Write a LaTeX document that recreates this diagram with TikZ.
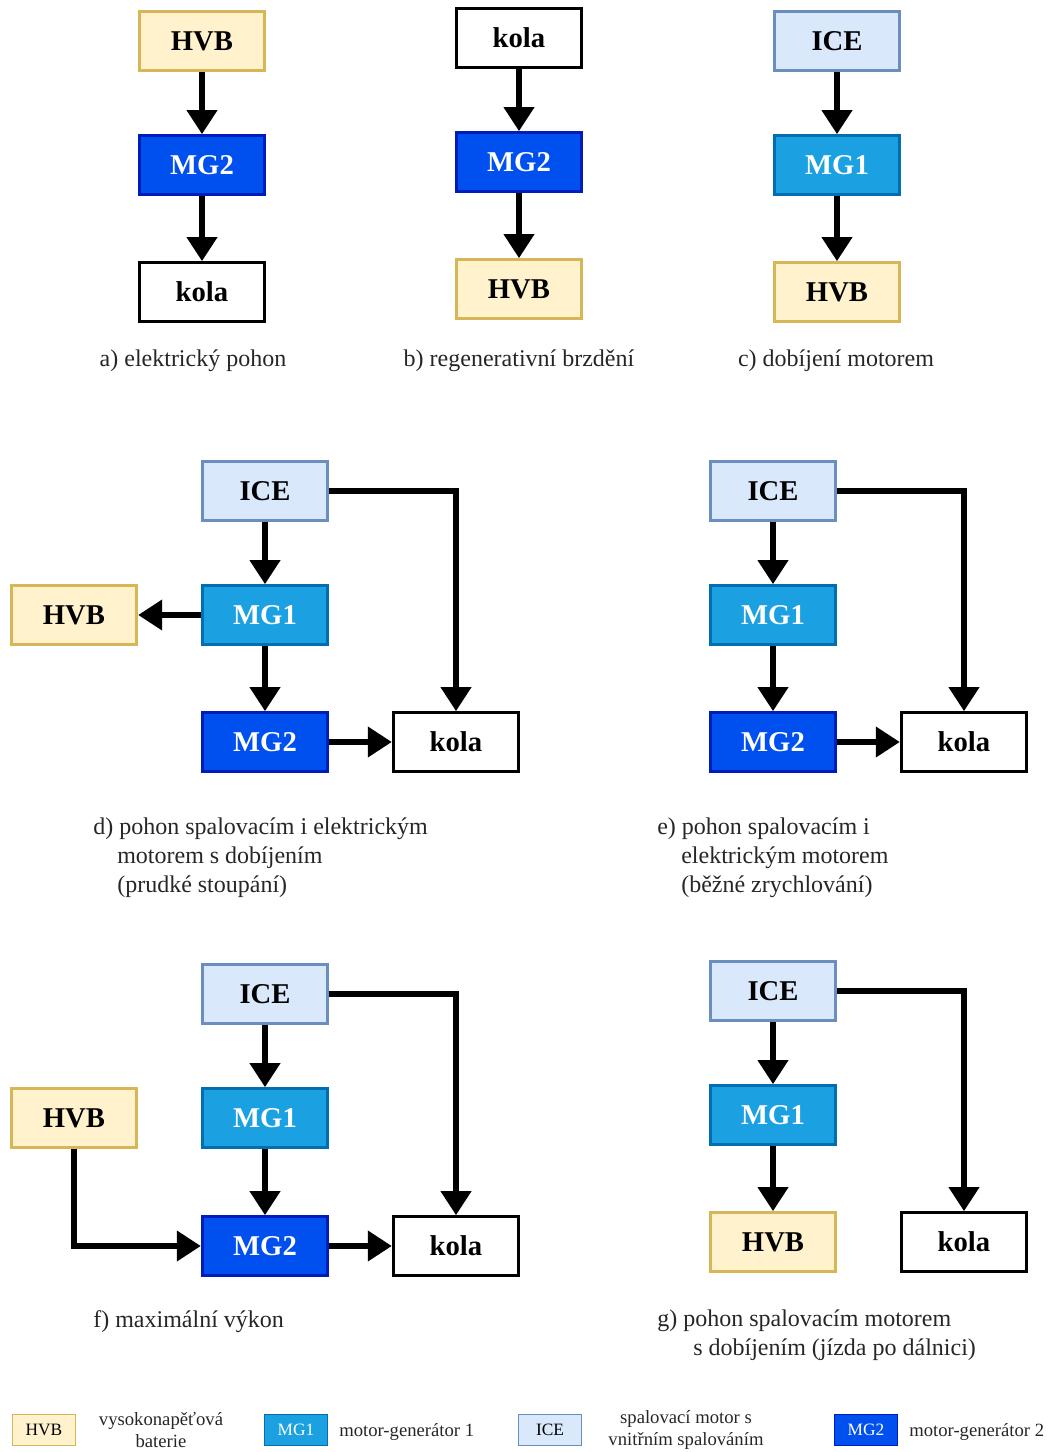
\documentclass[tikz,border=0pt]{standalone}
\usepackage{fontspec}
\setmainfont{Liberation Serif}
\usetikzlibrary{arrows.meta,positioning}
\definecolor{hvbfill}{HTML}{FFF2CC}
\definecolor{hvbdraw}{HTML}{D6B656}
\definecolor{icefill}{HTML}{DAE8FC}
\definecolor{icedraw}{HTML}{6C8EBF}
\definecolor{mgafill}{HTML}{1BA1E2}
\definecolor{mgadraw}{HTML}{006EAF}
\definecolor{mgbfill}{HTML}{0050EF}
\definecolor{mgbdraw}{HTML}{001DBC}
\tikzset{
  box/.style={rectangle, line width=2.2pt, minimum width=94pt, minimum height=44pt, inner sep=0pt, font=\fontsize{21.5}{24}\selectfont\bfseries},
  hvb/.style={box, fill=hvbfill, draw=hvbdraw, text=black},
  ice/.style={box, fill=icefill, draw=icedraw, text=black},
  mga/.style={box, fill=mgafill, draw=mgadraw, text=white},
  mgb/.style={box, fill=mgbfill, draw=mgbdraw, text=white},
  kola/.style={box, fill=white, draw=black, text=black},
  arr/.style={line width=4.4pt, -{Triangle[length=18pt,width=22pt]}},
  capt/.style={font=\fontsize{18}{21.4}\selectfont, text=black!85, inner sep=0pt},
  lbox/.style={rectangle, line width=1.1pt, minimum width=47pt, minimum height=23pt, inner sep=0pt, font=\fontsize{13}{15}\selectfont},
  ltext/.style={font=\fontsize{14}{16.5}\selectfont, text=black!85, inner sep=0pt, align=center},
}
\begin{document}
\begin{tikzpicture}[x=0.75pt, y=-0.75pt]
\useasboundingbox (0,0) rectangle (1050,1452);
% a)
\node[hvb] (hvb1) at (202,41) {HVB};
\node[mgb] (mg21) at (202,165) {MG2};
\node[kola] (kola1) at (202,292) {kola};
\draw[arr] (hvb1) -- (mg21);
\draw[arr] (mg21) -- (kola1);
\node[capt] (capa) at (193,361) {a) elektrický pohon};
% b)
\node[kola] (kola2) at (519,38) {kola};
\node[mgb] (mg22) at (519,162) {MG2};
\node[hvb] (hvb2) at (519,289) {HVB};
\draw[arr] (kola2) -- (mg22);
\draw[arr] (mg22) -- (hvb2);
\node[capt] (capb) at (519,361) {b) regenerativní brzdění};
% c)
\node[ice] (ice3) at (837,41) {ICE};
\node[mga] (mg13) at (837,165) {MG1};
\node[hvb] (hvb3) at (837,292) {HVB};
\draw[arr] (ice3) -- (mg13);
\draw[arr] (mg13) -- (hvb3);
\node[capt] (capc) at (836,361) {c) dobíjení motorem};
% d)
\node[ice] (ice4) at (265,491) {ICE};
\node[mga] (mg14) at (265,615) {MG1};
\node[hvb] (hvb4) at (74,615) {HVB};
\node[mgb] (mg24) at (265,742) {MG2};
\node[kola] (kola4) at (456,742) {kola};
\draw[arr] (ice4) -- (mg14);
\draw[arr] (mg14) -- (hvb4);
\draw[arr] (mg14) -- (mg24);
\draw[arr] (mg24) -- (kola4);
\draw[arr] (ice4.east) -| (kola4.north);
\node[capt, anchor=north west, align=left] (capd) at (93,818) {d) pohon spalovacím i elektrickým\\\hspace*{18pt}motorem s dobíjením\\\hspace*{18pt}(prudké stoupání)};
% e)
\node[ice] (ice5) at (773,491) {ICE};
\node[mga] (mg15) at (773,615) {MG1};
\node[mgb] (mg25) at (773,742) {MG2};
\node[kola] (kola5) at (964,742) {kola};
\draw[arr] (ice5) -- (mg15);
\draw[arr] (mg15) -- (mg25);
\draw[arr] (mg25) -- (kola5);
\draw[arr] (ice5.east) -| (kola5.north);
\node[capt, anchor=north west, align=left] (cape) at (657,818) {e) pohon spalovacím i\\\hspace*{18pt}elektrickým motorem\\\hspace*{18pt}(běžné zrychlování)};
% f)
\node[ice] (ice6) at (265,994) {ICE};
\node[mga] (mg16) at (265,1118) {MG1};
\node[hvb] (hvb6) at (74,1118) {HVB};
\node[mgb] (mg26) at (265,1246) {MG2};
\node[kola] (kola6) at (456,1246) {kola};
\draw[arr] (ice6) -- (mg16);
\draw[arr] (mg16) -- (mg26);
\draw[arr] (mg26) -- (kola6);
\draw[arr] (ice6.east) -| (kola6.north);
\draw[arr] (hvb6.south) |- (mg26.west);
\node[capt, anchor=north west, align=left] (capf) at (93,1310) {f) maximální výkon};
% g)
\node[ice] (ice7) at (773,991) {ICE};
\node[mga] (mg17) at (773,1115) {MG1};
\node[hvb] (hvb7) at (773,1242) {HVB};
\node[kola] (kola7) at (964,1242) {kola};
\draw[arr] (ice7) -- (mg17);
\draw[arr] (mg17) -- (hvb7);
\draw[arr] (ice7.east) -| (kola7.north);
\node[capt, anchor=north west, align=left] (capg) at (657,1310) {g) pohon spalovacím motorem\\\hspace*{27pt}s dobíjením (jízda po dálnici)};
% legend
\node[lbox, fill=hvbfill, draw=hvbdraw] (lhvb) at (44,1430) {HVB};
\node[ltext] (thvb) at (161,1430) {vysokonapěťová\\baterie};
\node[lbox, fill=mgafill, draw=mgadraw, text=white] (lmg1) at (296,1430) {MG1};
\node[ltext, anchor=west] (tmg1) at (339,1432) {motor-generátor 1};
\node[lbox, fill=icefill, draw=icedraw] (lice) at (550,1430) {ICE};
\node[ltext] (tice) at (686,1430) {spalovací motor s\\vnitřním spalováním};
\node[lbox, fill=mgbfill, draw=mgbdraw, text=white] (lmg2) at (866,1430) {MG2};
\node[ltext, anchor=west] (tmg2) at (909,1432) {motor-generátor 2};
\end{tikzpicture}
\end{document}
